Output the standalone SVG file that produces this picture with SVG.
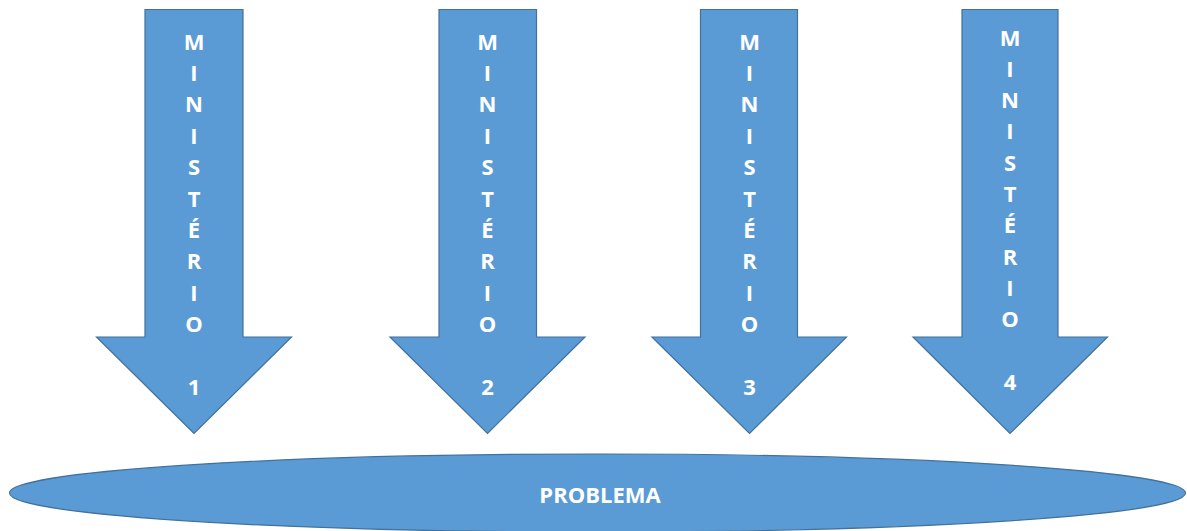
<svg xmlns="http://www.w3.org/2000/svg" width="1187" height="531" viewBox="0 0 1187 531">
<style>
.shape{fill:#5B9BD5;stroke:#41719C;stroke-width:1.2}
.lbl{font-family:"Open Sans","Liberation Sans",sans-serif;font-weight:bold;font-size:22px;fill:#FFFFFF;text-anchor:middle}
</style>
<rect width="1187" height="531" fill="#FFFFFF"/>
<g id="connectors"></g>
<g id="ministerio1">
<polygon class="shape" points="145,9.5 243,9.5 243,337 291.5,337 194,433.5 96.5,337 145,337"/>
<text class="lbl" x="194" y="49.5">M<tspan x="194" dy="31.4">I</tspan><tspan x="194" dy="31.4">N</tspan><tspan x="194" dy="31.4">I</tspan><tspan x="194" dy="31.4">S</tspan><tspan x="194" dy="31.4">T</tspan><tspan x="194" dy="31.4">É</tspan><tspan x="194" dy="31.4">R</tspan><tspan x="194" dy="31.4">I</tspan><tspan x="194" dy="31.4">O</tspan><tspan x="194" dy="62.8">1</tspan></text>
</g>
<g id="ministerio2">
<polygon class="shape" points="439,9.5 536.5,9.5 536.5,337 585,337 487.5,433.5 390,337 439,337"/>
<text class="lbl" x="487.5" y="49.5">M<tspan x="487.5" dy="31.4">I</tspan><tspan x="487.5" dy="31.4">N</tspan><tspan x="487.5" dy="31.4">I</tspan><tspan x="487.5" dy="31.4">S</tspan><tspan x="487.5" dy="31.4">T</tspan><tspan x="487.5" dy="31.4">É</tspan><tspan x="487.5" dy="31.4">R</tspan><tspan x="487.5" dy="31.4">I</tspan><tspan x="487.5" dy="31.4">O</tspan><tspan x="487.5" dy="62.8">2</tspan></text>
</g>
<g id="ministerio3">
<polygon class="shape" points="700.5,9.5 797.5,9.5 797.5,337 846.5,337 749.5,433.5 652,337 700.5,337"/>
<text class="lbl" x="749.5" y="49.5">M<tspan x="749.5" dy="31.4">I</tspan><tspan x="749.5" dy="31.4">N</tspan><tspan x="749.5" dy="31.4">I</tspan><tspan x="749.5" dy="31.4">S</tspan><tspan x="749.5" dy="31.4">T</tspan><tspan x="749.5" dy="31.4">É</tspan><tspan x="749.5" dy="31.4">R</tspan><tspan x="749.5" dy="31.4">I</tspan><tspan x="749.5" dy="31.4">O</tspan><tspan x="749.5" dy="62.8">3</tspan></text>
</g>
<g id="ministerio4">
<polygon class="shape" points="962,9.5 1058,9.5 1058,337 1107.5,337 1010,433.5 913,337 962,337"/>
<text class="lbl" x="1010" y="45.5">M<tspan x="1010" dy="31.3">I</tspan><tspan x="1010" dy="31.3">N</tspan><tspan x="1010" dy="31.3">I</tspan><tspan x="1010" dy="31.3">S</tspan><tspan x="1010" dy="31.3">T</tspan><tspan x="1010" dy="31.3">É</tspan><tspan x="1010" dy="31.3">R</tspan><tspan x="1010" dy="31.3">I</tspan><tspan x="1010" dy="31.3">O</tspan><tspan x="1010" dy="62.6">4</tspan></text>
</g>
<g id="problema">
<ellipse class="shape" cx="597.5" cy="493" rx="588" ry="39"/>
<text class="lbl" x="600" y="503">PROBLEMA</text>
</g>
</svg>
